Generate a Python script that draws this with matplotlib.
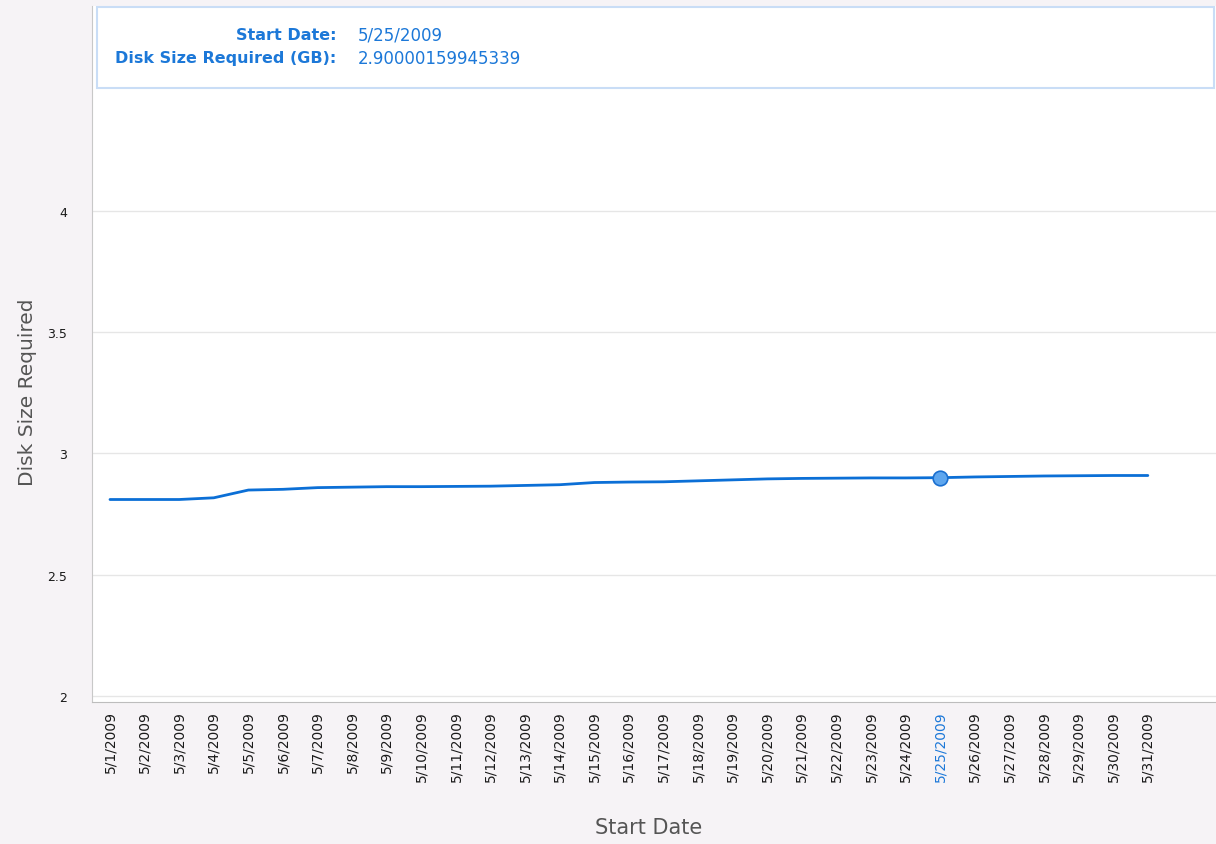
import matplotlib
matplotlib.use("Agg")
import matplotlib.pyplot as plt
from matplotlib.patches import Rectangle

# data
dates = ["5/%d/2009" % d for d in range(1, 32)]
disk_size = [2.810, 2.810, 2.810, 2.817, 2.849, 2.852, 2.859, 2.861, 2.863, 2.863,
             2.864, 2.865, 2.868, 2.871, 2.880, 2.882, 2.883, 2.887, 2.891, 2.895,
             2.897, 2.898, 2.899, 2.899, 2.90000159945339, 2.903, 2.905, 2.907,
             2.908, 2.909, 2.909]
yticks = [2, 2.5, 3, 3.5, 4]
hl_idx = 24  # 5/25/2009 highlighted

bg = "#f6f3f6"
blue = "#0b6fd6"
txt_blue = "#1c78d8"

fig = plt.figure(figsize=(12.16, 8.45), dpi=100, facecolor=bg)
W, H = 1216, 845
ax = fig.add_axes([92 / W, 1 - 703 / H, (1216 - 92) / W, (703 - 7) / H])
ax.set_facecolor("white")

x = list(range(len(dates)))
ax.plot(x, disk_size, color=blue, lw=2.0, solid_capstyle="round", zorder=3)
ax.plot(x[hl_idx], disk_size[hl_idx], "o", ms=10.5, mfc="#5ea6ee", mec="#1a6fd0",
        mew=1.2, zorder=4)

ax.set_xlim(-0.52, 31.97)
ax.set_ylim(1.975, 4.845)
ax.set_yticks(yticks)
ax.set_yticklabels(["2", "2.5", "3", "3.5", "4"])
ax.set_xticks(x)
ax.set_xticklabels(dates, rotation=90, va="top", ha="center")
ax.tick_params(axis="x", length=0, pad=6, labelsize=10, labelcolor="#1a1a1a")
ax.tick_params(axis="y", length=0, pad=18, labelsize=9, labelcolor="#1a1a1a")
ax.get_xticklabels()[hl_idx].set_color(txt_blue)

ax.grid(axis="y", color="#e6e6e6", lw=1)
ax.set_axisbelow(True)
for s in ["top", "right"]:
    ax.spines[s].set_visible(False)
ax.spines["left"].set_color("#c8c8c8")
ax.spines["bottom"].set_color("#bdbdbd")

fig.text(28 / W, 1 - 392 / H, "Disk Size Required", rotation=90, ha="center",
         va="center", fontsize=14.5, color="#555555")
fig.text(649 / W, 1 - 828 / H, "Start Date", ha="center", va="center",
         fontsize=15, color="#555555")

# tooltip box
box = Rectangle((97 / W, 1 - 89 / H), (1214 - 97) / W, 81 / H, transform=fig.transFigure,
                facecolor="white", edgecolor="#c9ddf6", lw=1.5, zorder=5)
fig.patches.append(box)
fig.text(336 / W, 1 - 35 / H, "Start Date:", ha="right", va="center", fontsize=11.5,
         fontweight="bold", color=txt_blue, zorder=6)
fig.text(336 / W, 1 - 59 / H, "Disk Size Required (GB):", ha="right", va="center",
         fontsize=11.5, fontweight="bold", color=txt_blue, zorder=6)
fig.text(358 / W, 1 - 35 / H, dates[hl_idx], ha="left", va="center", fontsize=12,
         color=txt_blue, zorder=6)
fig.text(358 / W, 1 - 59 / H, repr(disk_size[hl_idx]), ha="left", va="center",
         fontsize=12, color=txt_blue, zorder=6)

fig.savefig("out.png", dpi=100, facecolor=bg)
